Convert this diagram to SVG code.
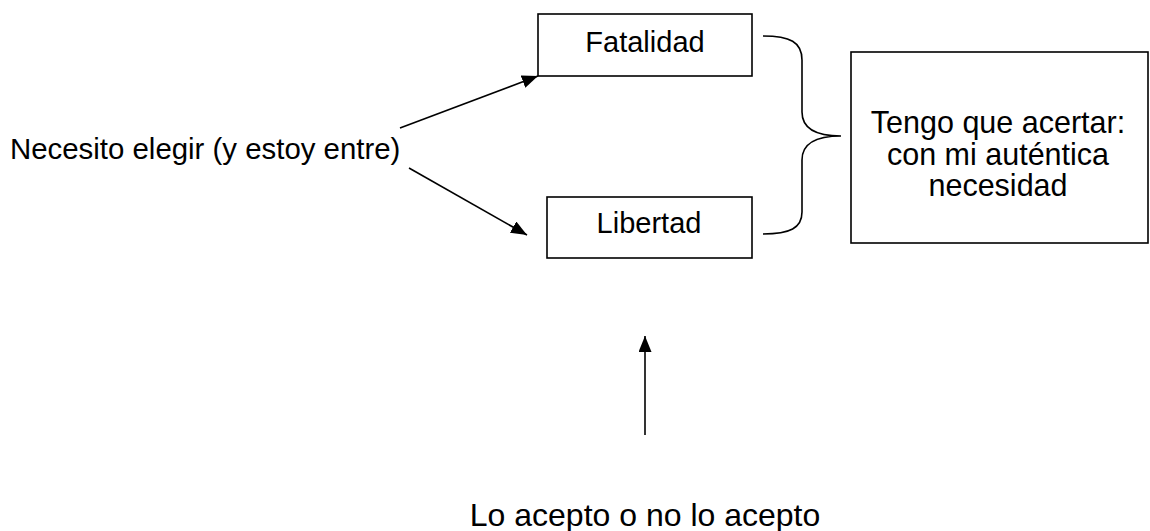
<svg xmlns="http://www.w3.org/2000/svg" width="1150" height="531" viewBox="0 0 1150 531">
<style>
.box{fill:#fff;stroke:#000;stroke-width:1.6}
.t{font-family:"Liberation Sans",Arial,sans-serif;font-size:29px;fill:#000}
.c{text-anchor:middle}
.big{font-size:30.5px}
.ln{fill:none;stroke:#000;stroke-width:1.6}
</style>
<defs>
<marker id="ah" markerUnits="userSpaceOnUse" markerWidth="16" markerHeight="13" refX="16" refY="6.5" orient="auto">
<path d="M0,0 L16,6.5 L0,13 z" fill="#000"/>
</marker>
</defs>
<rect width="1150" height="531" fill="#fff"/>
<g id="node-necesito">
<text class="t" x="10" y="159" style="font-size:29.4px">Necesito elegir (y estoy entre)</text>
</g>
<g id="node-fatalidad">
<rect class="box" x="538" y="14" width="214" height="62"/>
<text class="t c" x="645" y="52">Fatalidad</text>
</g>
<g id="node-libertad">
<rect class="box" x="547" y="197" width="205" height="61"/>
<text class="t c" x="649" y="233">Libertad</text>
</g>
<g id="node-tengo">
<rect class="box" x="851" y="52" width="297" height="191"/>
<text class="t c big" x="998" y="133">Tengo que acertar:</text>
<text class="t c big" x="998" y="165">con mi auténtica</text>
<text class="t c big" x="998" y="196">necesidad</text>
</g>
<g id="node-acepto">
<text class="t c" x="645" y="526" style="font-size:32px">Lo acepto o no lo acepto</text>
</g>
<g id="connectors">
<line class="ln" x1="400" y1="128" x2="538" y2="76" marker-end="url(#ah)"/>
<line class="ln" x1="409" y1="168" x2="527" y2="235" marker-end="url(#ah)"/>
<line class="ln" x1="645" y1="435" x2="645" y2="336" marker-end="url(#ah)"/>
<path class="ln" d="M763,36 C790,36 802,42 802,60 L802,112 C802,128 815,136 841,136 C815,136 802,144 802,160 L802,212 C802,228 790,234 763,234"/>
</g>
</svg>
